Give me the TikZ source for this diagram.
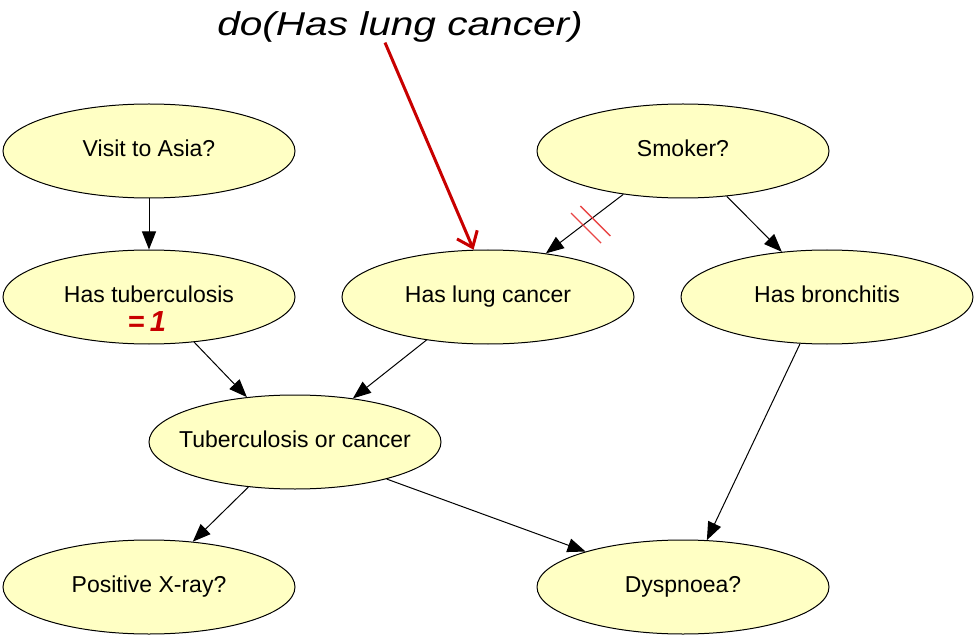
\documentclass[tikz,border=0pt]{standalone}
\usepackage{fontspec}
\setmainfont{Liberation Sans}
\usepackage{graphicx}
\usetikzlibrary{arrows.meta,shapes.geometric}
\definecolor{nodefill}{RGB}{255,255,196}
\definecolor{darkred}{RGB}{200,0,0}
\definecolor{tickred}{RGB}{232,70,70}
\newcommand{\nlabel}[1]{\makebox[0pt]{\vphantom{Hg}#1}}
\begin{document}
\begin{tikzpicture}[x=1pt,y=-1pt,
  bn/.style={ellipse, draw=black, line width=1pt, fill=nodefill,
    minimum width=292pt, minimum height=94pt, inner sep=0pt,
    font=\fontsize{23}{26}\selectfont},
  edge/.style={draw=black, line width=1pt, -{Triangle[length=18pt,width=14pt]}},
  redarrow/.style={draw=darkred, line width=3pt, -{Straight Barb[length=14pt,width=22pt]}},
  tickline/.style={draw=tickred, line width=1.3pt}]
\useasboundingbox (0,0) rectangle (974,636);

\node[bn] (visit)  at (149,151) {\nlabel{Visit to Asia?}};
\node[bn] (smoker) at (683,151) {\nlabel{Smoker?}};
\node[bn] (tub)    at (149,297) {\nlabel{Has tuberculosis}};
\node[bn] (lung)   at (488,297) {\nlabel{Has lung cancer}};
\node[bn] (bron)   at (827,297) {\nlabel{Has bronchitis}};
\node[bn] (torc)   at (295,442) {\nlabel{Tuberculosis or cancer}};
\node[bn] (xray)   at (149,587) {\nlabel{Positive X-ray?}};
\node[bn] (dysp)   at (683,587) {\nlabel{Dyspnoea?}};

\node[text=darkred, font=\fontsize{29}{30}\selectfont\bfseries, inner sep=0pt] (tubval) at (147,322) {=\,\textit{1}};

\node[inner sep=0pt, font=\fontsize{33}{36}\selectfont\itshape] (title) at (400,27)
  {\scalebox{1.23}[1]{do(Has lung cancer)}};

\draw[edge] (visit.270) -- (tub.90);
\draw[edge] (smoker.216) -- (lung.37)
  coordinate[pos=0.40] (t1) coordinate[pos=0.52] (t2);
\draw[tickline] ([shift={(-12,-12)}]t1) -- ([shift={(18,18)}]t1);
\draw[tickline] ([shift={(-12,-12)}]t2) -- ([shift={(18,18)}]t2);
\draw[edge] (smoker.314) -- (bron.135);
\draw[edge] (tub.315) -- (torc.137);
\draw[edge] (lung.215) -- (torc.37);
\draw[edge] (torc.224) -- (xray.46);
\draw[edge] (torc.338) -- (dysp.160);
\draw[edge] (bron.240) -- (dysp.63);
\draw[redarrow] ([xshift=-15pt]title.south) -- (lung.107);
\end{tikzpicture}
\end{document}
